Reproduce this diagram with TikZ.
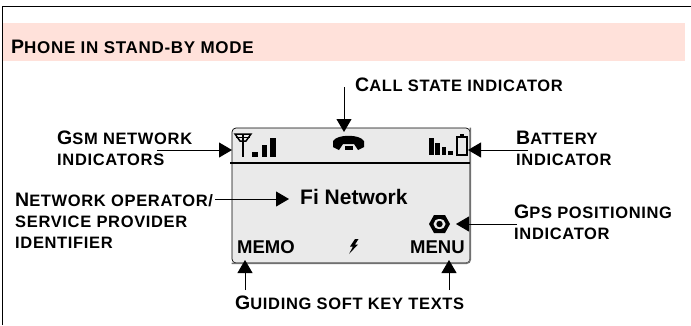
\documentclass[tikz,border=0pt]{standalone}
\usepackage{fontspec}
\setmainfont{Liberation Sans}
\usetikzlibrary{positioning,arrows.meta}

\definecolor{bandpink}{HTML}{FFE1DA}
\definecolor{lcdgray}{HTML}{EAEAEA}
\definecolor{lcdedge}{HTML}{707070}

% label words: big first letter, smaller rest
\newcommand{\firstcap}[1]{{\fontsize{19.5}{21}\selectfont #1}}
\newcommand{\lowcap}[2][16.5]{{\fontsize{#1}{21}\selectfont\addfontfeature{LetterSpace=4}#2}}

\tikzset{
	capslabel/.style={inner sep=0pt, align=left, anchor=north west, font=\bfseries\fontsize{16.5}{21}\selectfont},
	lcdtext/.style={inner sep=0pt, anchor=base west, font=\bfseries\fontsize{18.5}{21}\selectfont},
	pointer/.style={-{Stealth[length=13pt,width=15pt,inset=0pt]}, line width=0.9pt},
}

\begin{document}
\begin{tikzpicture}[x=1pt,y=-1pt]
	
	\useasboundingbox (0,0) rectangle (691,325);
	
	% Frame and title band
	\draw[line width=1.2pt] (2.5,325) -- (2.5,6.5) -- (691,6.5);
	\fill[bandpink] (3,23) rectangle (685,61);
	\node [capslabel,
	anchor=base west
	] (title) at (11,53) {\firstcap{P}\lowcap[17]{HONE IN STAND-BY MODE}};
	
	% Display
	\node [draw=black,
	fill=lcdgray,
	line width=0.7pt,
	rounded corners=4pt,
	minimum width=238pt,
	minimum height=135pt,
	inner sep=0pt
	] (lcd) at (351,195.5) {};
	\draw[lcdedge, line width=1.6pt, rounded corners=4pt]
	(lcd.north east) -- (lcd.south east) -- (lcd.south west);
	\draw[line width=1.6pt] (230,163) -- (lcd.east |- 0,163);
	
	% Signal icons
	\draw[line width=1.5pt] (235,134) -- (251,134) -- (246,141) -- (240,141) -- cycle;
	\draw[line width=1.2pt] (236,137.5) -- (250,137.5);
	\draw[line width=1.8pt] (243,134) -- (243,157);
	\fill (252,152) rectangle (258,157);
	\fill (262,145) rectangle (267,157);
	\fill (270,138) rectangle (276,157);
	
	% Call icon
	\fill (333,141) .. controls (337,134) and (360,134) .. (364,141)
	-- (364,147) -- (358,150) -- (354,144) -- (343,144) -- (339,150) -- (333,147) -- cycle;
	\fill (345,146) rectangle (353,150);
	
	% Battery icons
	\fill (429,138) rectangle (434,155);
	\fill (435,143) rectangle (440,155);
	\fill (442,147) rectangle (446,155);
	\fill (448,151) rectangle (453,155);
	\draw[line width=1.2pt] (457,155) rectangle (467,137);
	\fill (460,133.5) rectangle (464,137);
	
	% Gps icon
	\fill (429,224) -- (434,215) -- (445,215) -- (450,224) -- (445,233) -- (434,233) -- cycle;
	\fill[lcdgray] (439.5,224) ellipse (6pt and 5pt);
	\fill (439.5,224) circle (3.2pt);
	
	% Charge icon
	\fill (355,239) -- (350,246.5) -- (353,246.5) -- (349,254) -- (358,244.5) -- (355,244.5) -- (358.5,239) -- cycle;
	
	% Display texts
	\node [lcdtext,
	font=\bfseries\fontsize{21}{22}\selectfont
	] (finet) at (300,204) {Fi Network};
	\node [lcdtext] (memo) at (237,253) {MEMO};
	\node [lcdtext] (menu) at (410,253) {MENU};
	
	% Labels
	\node [capslabel] (calllabel) at (355,78) {\firstcap{C}\lowcap{ALL STATE INDICATOR}};
	\node [capslabel] (gsmlabel) at (57,131) {\firstcap{G}\lowcap{SM NETWORK}\\\lowcap{INDICATORS}};
	\node [capslabel] (batlabel) at (516,131) {\firstcap{B}\lowcap{ATTERY}\\\lowcap{INDICATOR}};
	\node [capslabel] (netlabel) at (15,192.5) {\firstcap{N}\lowcap{ETWORK OPERATOR/}\\\lowcap{SERVICE PROVIDER}\\\lowcap{IDENTIFIER}};
	\node [capslabel] (gpslabel) at (514,205) {\firstcap{G}\lowcap{PS POSITIONING}\\\lowcap{INDICATOR}};
	\node [capslabel] (softlabel) at (235,296) {\firstcap{G}\lowcap{UIDING SOFT KEY TEXTS}};
	
	% Connector ends
	\coordinate (callend) at (344,87);
	\coordinate (calltip) at (344,132);
	\coordinate (gsmend) at (157,150);
	\coordinate (gsmtip) at (232,150);
	\coordinate (batend) at (528,150);
	\coordinate (battip) at (468,150);
	\coordinate (netend) at (215,199);
	\coordinate (nettip) at (289,199);
	\coordinate (gpsend) at (517,224);
	\coordinate (gpstip) at (456,224);
	\coordinate (memoend) at (245,290);
	\coordinate (memotip) at (245,260);
	\coordinate (menuend) at (449,290);
	\coordinate (menutip) at (449,260);
	
	\draw[pointer] (callend) -- (calltip);
	
	\draw[pointer] (gsmend) -- (gsmtip);
	
	\draw[pointer] (batend) -- (battip);
	
	\draw[pointer] (netend) -- (nettip);
	
	\draw[pointer] (gpsend) -- (gpstip);
	
	\draw[pointer] (memoend) -- (memotip);
	
	\draw[pointer] (menuend) -- (menutip);
	
\end{tikzpicture}
\end{document}
